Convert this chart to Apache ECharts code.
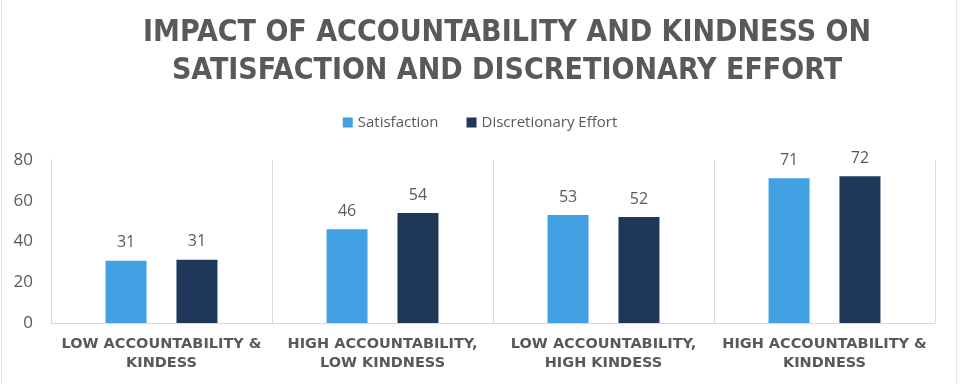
<!DOCTYPE html>
<html><head><meta charset="utf-8">
<script src="https://cdn.jsdelivr.net/npm/echarts@6/dist/echarts.min.js"></script>
<style>html,body{margin:0;padding:0;background:#fff}#c{width:960px;height:384px}</style>
</head><body><div id="c"></div>
<script>
const categories = ['LOW ACCOUNTABILITY &\nKINDESS', 'HIGH ACCOUNTABILITY,\nLOW KINDNESS', 'LOW ACCOUNTABILITY,\nHIGH KINDESS', 'HIGH ACCOUNTABILITY &\nKINDNESS'];
const satisfaction = [30.5, 46, 53, 71];
const discretionaryEffort = [31, 54, 52, 72];
const yTicks = [0, 20, 40, 60, 80];

const chart = echarts.init(document.getElementById('c'));
const grey = '#595959';
chart.setOption({
  animation: false,
  graphic: [
    { type: 'line', shape: { x1: 1.5, y1: 0, x2: 1.5, y2: 384 }, style: { stroke: '#e6e6e6', lineWidth: 1 } },
    { type: 'line', shape: { x1: 956.5, y1: 0, x2: 956.5, y2: 384 }, style: { stroke: '#e6e6e6', lineWidth: 1 } }
  ],
  title: {
    text: 'IMPACT OF ACCOUNTABILITY AND KINDNESS ON\nSATISFACTION AND DISCRETIONARY EFFORT',
    left: 502, top: 9, textAlign: 'center',
    textStyle: { fontFamily: "'Liberation Sans Narrow','DejaVu Sans Condensed','Open Sans'", fontWeight: 'bold', fontSize: 30, color: grey, lineHeight: 38 }
  },
  legend: {
    top: 110, left: 'center', itemWidth: 10, itemHeight: 10, itemGap: 28,
    icon: 'rect',
    textStyle: { fontFamily: "'Open Sans'", fontSize: 15, color: grey }
  },
  grid: { left: 51, right: 25, top: 160, bottom: 61 },
  xAxis: {
    type: 'category', data: categories,
    axisLine: { lineStyle: { color: '#d9d9d9' } },
    axisTick: { show: false },
    splitLine: { show: true, lineStyle: { color: '#d9d9d9' } },
    axisLabel: { interval: 0, margin: 12, fontFamily: "'DejaVu Sans'", fontWeight: 'bold', fontSize: 14.5, color: grey, lineHeight: 19 }
  },
  yAxis: {
    type: 'value', min: yTicks[0], max: yTicks[yTicks.length - 1], interval: 20,
    axisLine: { show: true, lineStyle: { color: '#d9d9d9' } },
    splitLine: { show: false },
    axisLabel: { fontFamily: "'Open Sans'", fontSize: 17, color: grey, margin: 18 }
  },
  series: [
    { name: 'Satisfaction', type: 'bar', data: satisfaction, barWidth: 41, barGap: '73%',
      itemStyle: { color: '#42A1E3' },
      label: { show: true, position: 'top', distance: 10, fontFamily: "'Open Sans'", fontSize: 16, color: grey, formatter: p => Math.round(p.value) } },
    { name: 'Discretionary Effort', type: 'bar', data: discretionaryEffort, barWidth: 41,
      itemStyle: { color: '#1F3859' },
      label: { show: true, position: 'top', distance: 10, fontFamily: "'Open Sans'", fontSize: 16, color: grey, formatter: p => Math.round(p.value) } }
  ]
});
</script></body></html>
